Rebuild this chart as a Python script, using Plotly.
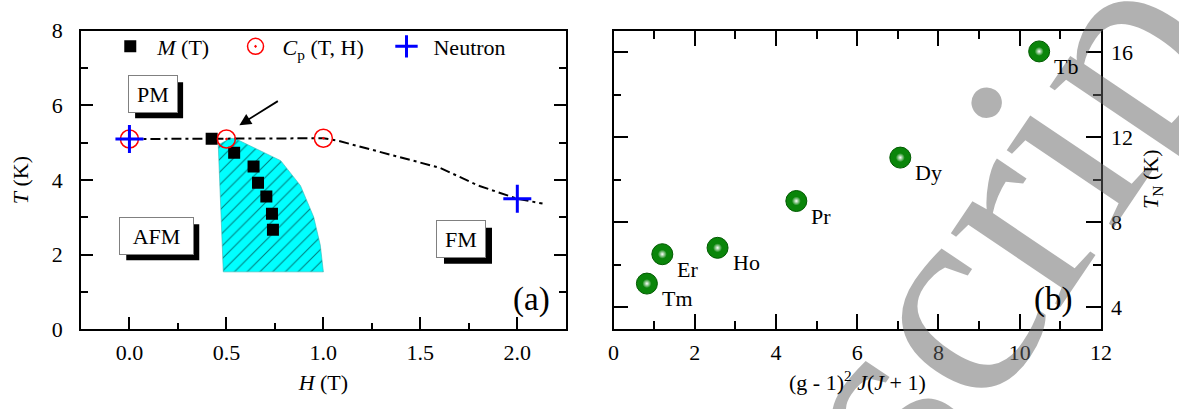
import plotly.graph_objects as go

# ---------------- Panel (a) data ----------------
M_H = [0.424, 0.54, 0.64, 0.663, 0.706, 0.735, 0.74]
M_T = [5.11, 4.73, 4.36, 3.93, 3.56, 3.10, 2.67]
Cp_H = [0.0, 0.5, 1.0]
Cp_T = [5.10, 5.10, 5.12]
N_H = [0.0, 2.0]
N_T = [5.10, 3.50]
guide_H = [0.0, 0.42, 0.5, 1.0, 1.07, 1.6, 1.8, 2.0, 2.13]
guide_T = [5.10, 5.11, 5.10, 5.12, 5.06, 4.33, 3.85, 3.50, 3.37]
region_H = [0.458, 0.52, 0.55, 0.78, 0.882, 0.95, 0.984, 1.0, 0.484, 0.458]
region_T = [4.94, 5.12, 5.10, 4.52, 3.85, 3.01, 2.26, 1.54, 1.54, 4.94]
phase_labels = ["PM", "AFM", "FM"]
phase_H = [0.1195, 0.1383, 1.7122]
phase_T = [6.314, 2.509, 2.415]

# ---------------- Panel (b) data ----------------
elements = ["Tm", "Er", "Ho", "Pr", "Dy", "Tb"]
dG = [0.82, 1.2, 2.56, 4.5, 7.06, 10.48]
TN = [5.12, 6.5, 6.8, 9.0, 11.04, 16.03]

FONT = "Liberation Serif, Times New Roman, serif"

fig = go.Figure()

# hatched region
fig.add_trace(go.Scatter(
    x=region_H, y=region_T, mode="lines", fill="toself",
    fillcolor="#00ffff", line=dict(width=0.6, color="#33b5b5"),
    fillpattern=dict(shape="/", bgcolor="#00ffff", fgcolor="black", size=9, solidity=0.12),
    showlegend=False, hoverinfo="skip", xaxis="x", yaxis="y"))

# guide dash-dot line
fig.add_trace(go.Scatter(
    x=guide_H, y=guide_T, mode="lines",
    line=dict(color="black", width=2, dash="10px,4px,3px,4px"),
    showlegend=False, hoverinfo="skip", xaxis="x", yaxis="y"))

fig.add_trace(go.Scatter(
    x=M_H, y=M_T, mode="markers", name="<i>M</i> (T)", legend="legend",
    marker=dict(symbol="square", size=12, color="black"),
    xaxis="x", yaxis="y"))
fig.add_trace(go.Scatter(
    x=Cp_H, y=Cp_T, mode="markers", name="<i>C</i><sub>p</sub> (T, H)", legend="legend2",
    marker=dict(symbol="circle-open-dot", size=18, color="red", line=dict(width=1.5, color="red")),
    xaxis="x", yaxis="y"))
fig.add_trace(go.Scatter(
    x=N_H, y=N_T, mode="markers", name="Neutron", legend="legend3",
    marker=dict(symbol="cross-thin-open", size=20, color="blue", line=dict(width=3, color="blue")),
    xaxis="x", yaxis="y"))

# panel (b)
fig.add_trace(go.Scatter(
    x=dG, y=TN, mode="markers",
    marker=dict(symbol="circle", size=21, color="#0a850a", line=dict(width=1, color="#005a00")),
    showlegend=False, xaxis="x2", yaxis="y2"))
fig.add_trace(go.Scatter(
    x=dG, y=TN, mode="markers",
    marker=dict(symbol="circle", size=9, color="#0a850a", gradient=dict(type="radial", color="white"),
                line=dict(width=0)),
    showlegend=False, hoverinfo="skip", xaxis="x2", yaxis="y2"))

tickfont = dict(family=FONT, size=22, color="black")
common = dict(showgrid=False, zeroline=False, showline=True, linecolor="black", linewidth=1.5,
              ticks="inside", tickcolor="black", tickwidth=1.5, tickfont=tickfont)

def leg(xpos):
    return dict(orientation="h", x=xpos, y=0.91, xanchor="left", yanchor="middle",
                font=dict(family=FONT, size=22), bgcolor="rgba(0,0,0,0)", itemsizing="trace",
                itemwidth=44)

fig.update_layout(
    width=1179, height=409,
    margin=dict(l=0, r=0, t=0, b=0),
    paper_bgcolor="white", plot_bgcolor="white",
    font=dict(family=FONT, size=22, color="black"),
    xaxis=dict(domain=[0.0653, 0.4822], range=[-0.25, 2.25], anchor="y",
               dtick=0.5, tick0=0, tickformat=".1f", ticklen=13, mirror=True, ticklabelstandoff=3,
               minor=dict(ticks="inside", dtick=0.25, tick0=0, ticklen=7, tickwidth=1.5, tickcolor="black"),
               title=dict(text="<i>H</i> (T)", font=dict(family=FONT, size=22), standoff=10),
               **common),
    yaxis=dict(domain=[0.1736, 0.9511], range=[0, 8], anchor="x",
               dtick=2, tick0=0, ticklen=12, mirror="ticks", ticklabelstandoff=12,
               minor=dict(ticks="inside", dtick=1, tick0=0, ticklen=7, tickwidth=1.5, tickcolor="black"),
               title=dict(text="<i>T</i> (K)", font=dict(family=FONT, size=22), standoff=17),
               **common),
    xaxis2=dict(domain=[0.5233, 0.9423], range=[0, 12], anchor="y2",
                dtick=2, tick0=0, ticklen=15, mirror="ticks", ticklabelstandoff=3,
                minor=dict(ticks="inside", dtick=1, tick0=0, ticklen=8, tickwidth=1.5, tickcolor="black"),
                **common),
    yaxis2=dict(domain=[0.1753, 0.9511], range=[3, 17], anchor="x2", side="right",
                dtick=4, tick0=0, ticklen=15, mirror="ticks", ticklabelstandoff=4,
                minor=dict(ticks="inside", dtick=2, tick0=0, ticklen=8, tickwidth=1.5, tickcolor="black"),
                **common),
    legend=leg(0.0845),
    legend2=leg(0.1922),
    legend3=leg(0.322),
)

# watermark: translucent so the axis lines and tick labels beneath stay visible
fig.add_annotation(text="script", xref="paper", yref="paper", x=0.874, y=0.535,
                   xanchor="center", yanchor="middle",
                   showarrow=False, textangle=-56,
                   font=dict(family=FONT, size=288, color="rgba(100,100,100,0.5)"))

# panel (b) axis titles, drawn above the watermark
fig.add_annotation(text="(g - 1)<sup>2</sup> <i>J</i>(<i>J</i> + 1)", xref="x2 domain", yref="paper",
                   x=0.5, y=0.039, xanchor="center", yanchor="middle", showarrow=False,
                   font=dict(family=FONT, size=22, color="black"))
fig.add_annotation(text="<i>T</i><sub>N</sub> (K)", xref="paper", yref="y2 domain",
                   x=1163 / 1179, y=0.5, xanchor="center", yanchor="middle", showarrow=False,
                   textangle=-90, font=dict(family=FONT, size=22, color="black"))

# phase boxes with drop shadows (shadow = pixel-sized rectangle)
for lab, h, t in zip(phase_labels, phase_H, phase_T):
    w = 73 if lab == "AFM" else 48
    fig.add_shape(type="rect", xref="x", yref="y", xsizemode="pixel", ysizemode="pixel",
                  xanchor=h, yanchor=t, x0=-w / 2 + 6.5, x1=w / 2 + 6.5, y0=-18 - 6.5, y1=18 - 6.5,
                  fillcolor="black", line=dict(width=0), layer="above")
    fig.add_annotation(x=h, y=t, xref="x", yref="y", text=lab, showarrow=False,
                       width=w, height=36, bgcolor="white", bordercolor="#808080", borderwidth=1,
                       font=dict(family=FONT, size=22, color="black"), borderpad=0)

# arrow pointing to the Cp point
fig.add_annotation(x=0.567, y=5.47, ax=0.773, ay=6.14, xref="x", yref="y", axref="x", ayref="y",
                   text="", showarrow=True, arrowhead=2, arrowsize=1.3, arrowwidth=1.8, arrowcolor="black")

# element labels
for el, gx, ty in zip(elements, dG, TN):
    fig.add_annotation(x=gx, y=ty, xref="x2", yref="y2", text=el, showarrow=False,
                       xanchor="left", yanchor="middle", xshift=13, yshift=-15,
                       font=dict(family=FONT, size=22, color="black"))

# panel tags
fig.add_annotation(text="(a)", xref="paper", yref="paper", x=0.4707, y=0.2518,
                   xanchor="right", yanchor="middle", showarrow=False,
                   font=dict(family=FONT, size=33, color="black"))
fig.add_annotation(text="(b)", xref="paper", yref="paper", x=0.9194, y=0.2506,
                   xanchor="right", yanchor="middle", showarrow=False,
                   font=dict(family=FONT, size=33, color="black"))

fig.write_html("out.html", config={"displayModeBar": False},
               post_script="document.body.style.margin='0';document.body.style.overflow='hidden';")
